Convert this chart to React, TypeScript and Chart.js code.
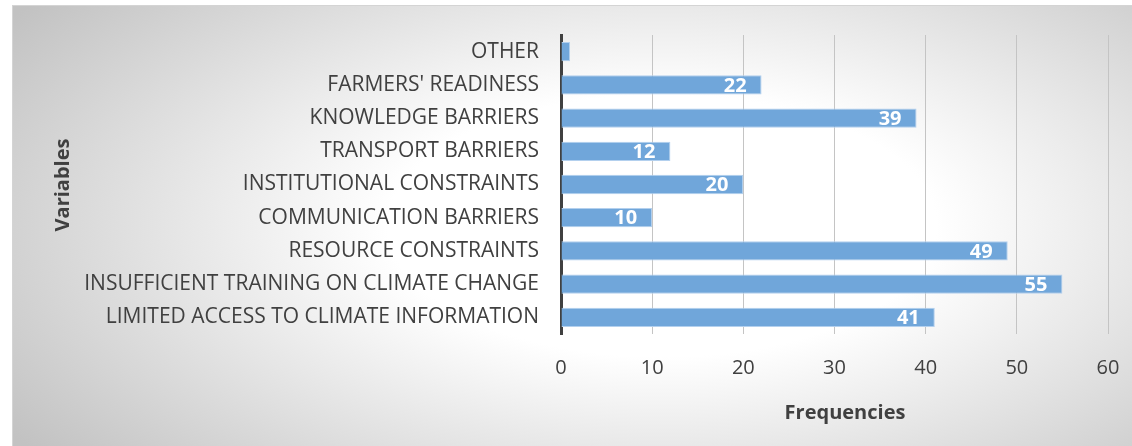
import React, { useEffect, useRef } from "react";
import { Chart, registerables } from "chart.js";

Chart.register(...registerables);

const categories = [
  "OTHER",
  "FARMERS' READINESS",
  "KNOWLEDGE BARRIERS",
  "TRANSPORT BARRIERS",
  "INSTITUTIONAL CONSTRAINTS",
  "COMMUNICATION BARRIERS",
  "RESOURCE CONSTRAINTS",
  "INSUFFICIENT TRAINING ON CLIMATE CHANGE",
  "LIMITED ACCESS TO CLIMATE INFORMATION",
];
const frequencies = [1, 22, 39, 12, 20, 10, 49, 55, 41];
const showLabel = [false, true, true, true, true, true, true, true, true];
const xTitle = "Frequencies";
const yTitle = "Variables";

const FONT = "'Open Sans', 'Noto Sans', sans-serif";

const overlayPlugin = {
  id: "overlay",
  afterDatasetsDraw(chart: any) {
    const ctx = chart.ctx;
    const meta = chart.getDatasetMeta(0);
    ctx.save();
    ctx.font = `bold 20px ${FONT}`;
    ctx.fillStyle = "#ffffff";
    ctx.textAlign = "right";
    ctx.textBaseline = "middle";
    meta.data.forEach((bar: any, i: number) => {
      if (!showLabel[i]) return;
      ctx.fillText(String(frequencies[i]), bar.x - 15, bar.y + 1);
    });
    ctx.restore();
  },
  afterDraw(chart: any) {
    const ctx = chart.ctx;
    ctx.save();
    ctx.fillStyle = "#404040";
    ctx.font = `bold 20px ${FONT}`;
    ctx.textAlign = "center";
    ctx.textBaseline = "middle";
    ctx.fillText(xTitle, 833, 408);
    ctx.translate(51, 180);
    ctx.rotate(-Math.PI / 2);
    ctx.fillText(yTitle, 0, 0);
    ctx.restore();
  },
};

export default function App() {
  const ref = useRef<HTMLCanvasElement | null>(null);
  useEffect(() => {
    if (!ref.current) return;
    const chart = new Chart(ref.current, {
      type: "bar",
      data: {
        labels: categories,
        datasets: [
          {
            data: frequencies,
            backgroundColor: "#70a6da",
            borderColor: "#b3d0ee",
            borderWidth: 1,
            borderSkipped: "left",
            barPercentage: 0.58,
            categoryPercentage: 1,
          },
        ],
      },
      options: {
        indexAxis: "y",
        animation: false,
        responsive: false,
        maintainAspectRatio: false,
        layout: { padding: { top: 30, right: 24, left: 0, bottom: 0 } },
        plugins: { legend: { display: false }, tooltip: { enabled: false } },
        scales: {
          x: {
            min: 0,
            max: 60,
            ticks: {
              stepSize: 10,
              color: "#404040",
              font: { family: FONT, size: 20 },
              padding: 22,
            },
            grid: { color: "#c4c4c4", drawTicks: false, lineWidth: 1 },
            border: { display: false },
            afterFit(scale: any) {
              scale.height = 112;
              scale.paddingLeft = 0;
              scale.paddingRight = 0;
              scale.paddingTop = 0;
              scale.paddingBottom = 0;
            },
          },
          y: {
            ticks: {
              color: "#404040",
              font: { family: FONT, size: 21 },
              padding: 22,
              autoSkip: false,
            },
            grid: { display: false, drawTicks: false },
            border: { display: true, color: "#404040", width: 3 },
            afterFit(scale: any) {
              scale.width = 549;
              scale.paddingLeft = 0;
              scale.paddingRight = 0;
              scale.paddingTop = 0;
              scale.paddingBottom = 0;
            },
          },
        },
      },
      plugins: [overlayPlugin],
    });
    return () => chart.destroy();
  }, []);
  return (
    <div
      style={{
        position: "fixed",
        left: 12,
        top: 5,
        width: 1120,
        height: 441,
        borderTop: "1px solid #d4d4d4",
        borderLeft: "1px solid #d4d4d4",
        boxSizing: "border-box",
        overflow: "hidden",
        background:
          "radial-gradient(ellipse 70% 85% at 58% 50%, #ffffff 0%, #ffffff 35%, #c2c2c2 100%)",
      }}
    >
      <canvas
        ref={ref}
        width={1120}
        height={441}
        style={{ position: "absolute", left: -1, top: -1, width: 1120, height: 441 }}
      />
    </div>
  );
}
